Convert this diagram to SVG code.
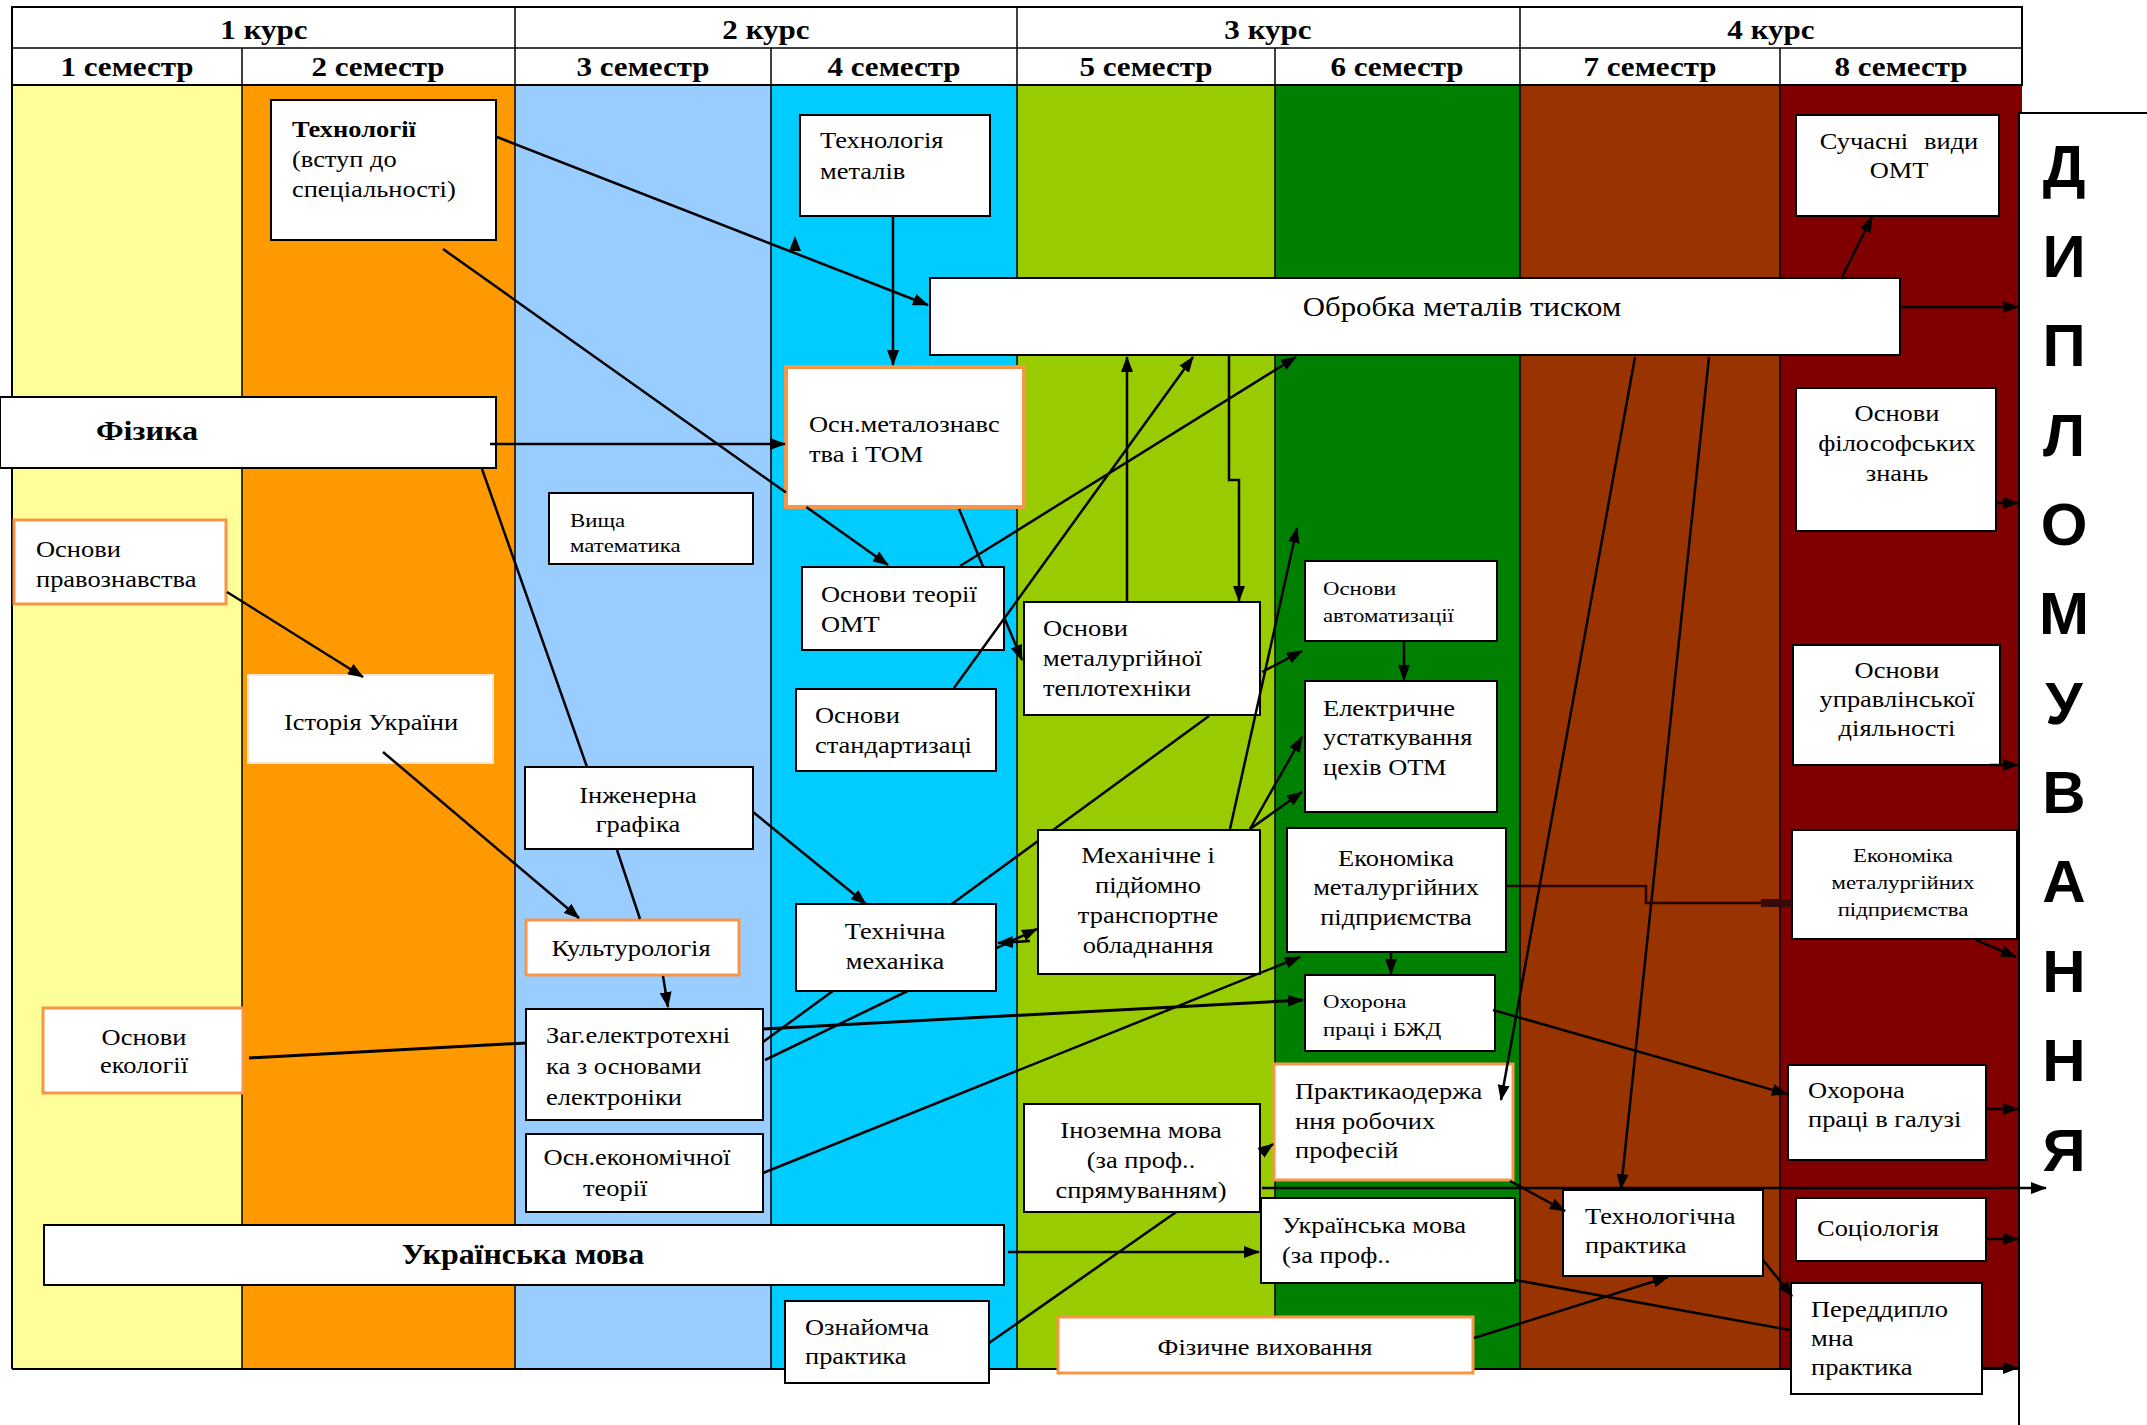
<svg xmlns="http://www.w3.org/2000/svg" width="2147" height="1425" viewBox="0 0 2147 1425">
<defs>
<marker id="ar" markerUnits="userSpaceOnUse" markerWidth="16" markerHeight="12" refX="15" refY="6" orient="auto"><path d="M0,0 L16,6 L0,12 z" fill="#000"/></marker>
<style>
text{font-family:"Liberation Serif","Times New Roman",serif;font-size:23px;fill:#000}
.s{font-size:19px}
.b{font-weight:bold}
.c{text-anchor:middle}
.hd{font-size:27px;font-weight:bold;text-anchor:middle}
.n rect{fill:#fff;stroke:#000;stroke-width:2}
.n.o rect{stroke:#F79646;stroke-width:3}
.cn line,.cn polyline{stroke:#000;stroke-width:2.5;fill:none}
.a{marker-end:url(#ar)}
.dip{font-family:"Liberation Sans",Arial,sans-serif;font-size:60px;font-weight:bold;text-anchor:middle}
.tl{stroke:#000;stroke-width:1.5}
</style>
</defs>
<rect width="2147" height="1425" fill="#fff"/>
<g id="columns">
<rect x="12" y="85" width="230" height="1284" fill="#FFFF99"/>
<rect x="242" y="85" width="273" height="1284" fill="#FF9900"/>
<rect x="515" y="85" width="256" height="1284" fill="#99CCFF"/>
<rect x="771" y="85" width="246" height="1284" fill="#00CCFF"/>
<rect x="1017" y="85" width="258" height="1284" fill="#99CC00"/>
<rect x="1275" y="85" width="245" height="1284" fill="#008000"/>
<rect x="1520" y="85" width="260" height="1284" fill="#993300"/>
<rect x="1780" y="85" width="242" height="1284" fill="#800000"/>
</g>
<g id="table">
<rect x="12" y="7" width="2010" height="78" fill="#fff" stroke="#000" stroke-width="2"/>
<line class="tl" x1="12" y1="48" x2="2022" y2="48"/>
<line class="tl" x1="515" y1="7" x2="515" y2="1369"/>
<line class="tl" x1="1017" y1="7" x2="1017" y2="1369"/>
<line class="tl" x1="1520" y1="7" x2="1520" y2="1369"/>
<line class="tl" x1="242" y1="48" x2="242" y2="1369"/>
<line class="tl" x1="771" y1="48" x2="771" y2="1369"/>
<line class="tl" x1="1275" y1="48" x2="1275" y2="1369"/>
<line class="tl" x1="1780" y1="48" x2="1780" y2="1369"/>
<line x1="12" y1="85" x2="12" y2="1369" stroke="#000" stroke-width="2"/>
<line x1="12" y1="1369" x2="2020" y2="1369" stroke="#000" stroke-width="2"/>
<text class="hd" transform="translate(264,39) scale(1.15 1)">1 курс</text>
<text class="hd" transform="translate(766,39) scale(1.15 1)">2 курс</text>
<text class="hd" transform="translate(1268,39) scale(1.15 1)">3 курс</text>
<text class="hd" transform="translate(1771,39) scale(1.15 1)">4 курс</text>
<text class="hd" transform="translate(127,76) scale(1.15 1)">1 семестр</text>
<text class="hd" transform="translate(378,76) scale(1.15 1)">2 семестр</text>
<text class="hd" transform="translate(643,76) scale(1.15 1)">3 семестр</text>
<text class="hd" transform="translate(894,76) scale(1.15 1)">4 семестр</text>
<text class="hd" transform="translate(1146,76) scale(1.15 1)">5 семестр</text>
<text class="hd" transform="translate(1397,76) scale(1.15 1)">6 семестр</text>
<text class="hd" transform="translate(1650,76) scale(1.15 1)">7 семестр</text>
<text class="hd" transform="translate(1901,76) scale(1.15 1)">8 семестр</text>
</g>
<g id="n-dyplom">
<rect x="2019" y="113" width="160" height="1340" fill="#fff" stroke="#000" stroke-width="2"/>
<text class="dip" x="2064" y="187">Д</text>
<text class="dip" x="2064" y="277">И</text>
<text class="dip" x="2064" y="366">П</text>
<text class="dip" x="2064" y="456">Л</text>
<text class="dip" x="2064" y="545">О</text>
<text class="dip" x="2064" y="634">М</text>
<text class="dip" x="2064" y="724">У</text>
<text class="dip" x="2064" y="813">В</text>
<text class="dip" x="2064" y="902">А</text>
<text class="dip" x="2064" y="992">Н</text>
<text class="dip" x="2064" y="1081">Н</text>
<text class="dip" x="2064" y="1171">Я</text>
</g>
<g id="n-tech" class="n"><rect x="271" y="100" width="225" height="140"/><text transform="translate(292,137) scale(1.15 1)"><tspan x="0" y="0" class="b">Технології</tspan><tspan x="0" y="30">(вступ до</tspan><tspan x="0" y="60">спеціальності)</tspan></text></g>
<g id="n-fizyka" class="n"><rect x="0" y="397" width="496" height="71"/><text class="b c" style="font-size:28px" transform="translate(147,440) scale(1.15 1)">Фізика</text></g>
<g id="n-pravo" class="n o"><rect x="14" y="520" width="212" height="84"/><text transform="translate(36,557) scale(1.15 1)"><tspan x="0" y="0">Основи</tspan><tspan x="0" y="30">правознавства</tspan></text></g>
<g id="n-istoriya" class="n"><rect x="248" y="675" width="245" height="88" style="stroke:#fde4cf"/><text class="c" transform="translate(371,730) scale(1.15 1)">Історія України</text></g>
<g id="n-vyshcha" class="n"><rect x="549" y="493" width="204" height="71"/><text class="s" transform="translate(570,527) scale(1.2 1)"><tspan x="0" y="0">Вища</tspan><tspan x="0" y="25">математика</tspan></text></g>
<g id="n-inzh" class="n"><rect x="525" y="767" width="228" height="82"/><text class="c" transform="translate(638,803) scale(1.15 1)"><tspan x="0" y="0">Інженерна</tspan><tspan x="0" y="29">графіка</tspan></text></g>
<g id="n-kultur" class="n o"><rect x="526" y="920" width="213" height="55"/><text class="c" transform="translate(631,956) scale(1.15 1)">Культурологія</text></g>
<g id="n-zagel" class="n"><rect x="526" y="1009" width="237" height="111"/><text transform="translate(546,1043) scale(1.15 1)"><tspan x="0" y="0">Заг.електротехні</tspan><tspan x="0" y="31">ка з основами</tspan><tspan x="0" y="62">електроніки</tspan></text></g>
<g id="n-oet" class="n"><rect x="526" y="1134" width="237" height="78"/><text class="c" transform="translate(637,1165) scale(1.15 1)"><tspan x="0" y="0">Осн.економічної</tspan><tspan x="-19" y="31">теорії</tspan></text></g>
<g id="n-ukrmova" class="n"><rect x="44" y="1225" width="960" height="60"/><text class="b c" style="font-size:29px" transform="translate(523,1264) scale(1.1 1)">Українська мова</text></g>
<g id="n-ekol" class="n o"><rect x="43" y="1008" width="200" height="85"/><text class="c" transform="translate(144,1045) scale(1.15 1)"><tspan x="0" y="0">Основи</tspan><tspan x="0" y="28">екології</tspan></text></g>
<g id="n-techmet" class="n"><rect x="800" y="115" width="190" height="101"/><text transform="translate(820,148) scale(1.15 1)"><tspan x="0" y="0">Технологія</tspan><tspan x="0" y="31">металів</tspan></text></g>
<g id="n-obrobka" class="n"><rect x="930" y="278" width="970" height="77"/><text class="c" style="font-size:28px" transform="translate(1462,316) scale(1.1 1)">Обробка металів тиском</text></g>
<g id="n-osnmet" class="n o"><rect x="786" y="367" width="238" height="140" style="stroke-width:4"/><text transform="translate(809,432) scale(1.15 1)"><tspan x="0" y="0">Осн.металознавс</tspan><tspan x="0" y="30">тва і ТОМ</tspan></text></g>
<g id="n-oteorii" class="n"><rect x="802" y="567" width="202" height="83"/><text transform="translate(821,602) scale(1.15 1)"><tspan x="0" y="0">Основи теорії</tspan><tspan x="0" y="30">ОМТ</tspan></text></g>
<g id="n-ostand" class="n"><rect x="796" y="689" width="200" height="82"/><text transform="translate(815,723) scale(1.15 1)"><tspan x="0" y="0">Основи</tspan><tspan x="0" y="30">стандартизаці</tspan></text></g>
<g id="n-techmech" class="n"><rect x="796" y="904" width="200" height="87"/><text class="c" transform="translate(895,939) scale(1.15 1)"><tspan x="0" y="0">Технічна</tspan><tspan x="0" y="30">механіка</tspan></text></g>
<g id="n-oznay" class="n"><rect x="785" y="1301" width="204" height="82"/><text transform="translate(805,1335) scale(1.15 1)"><tspan x="0" y="0">Ознайомча</tspan><tspan x="0" y="29">практика</tspan></text></g>
<g id="n-teplo" class="n"><rect x="1024" y="602" width="236" height="113"/><text transform="translate(1043,636) scale(1.15 1)"><tspan x="0" y="0">Основи</tspan><tspan x="0" y="30">металургійної</tspan><tspan x="0" y="60">теплотехніки</tspan></text></g>
<g id="n-mechan" class="n"><rect x="1038" y="830" width="222" height="144"/><text class="c" transform="translate(1148,863) scale(1.15 1)"><tspan x="0" y="0">Механічне і</tspan><tspan x="0" y="30">підйомно</tspan><tspan x="0" y="60">транспортне</tspan><tspan x="0" y="90">обладнання</tspan></text></g>
<g id="n-inozem" class="n"><rect x="1024" y="1104" width="236" height="108"/><text class="c" transform="translate(1141,1138) scale(1.15 1)"><tspan x="0" y="0">Іноземна мова</tspan><tspan x="0" y="30">(за проф..</tspan><tspan x="0" y="60">спрямуванням)</tspan></text></g>
<g id="n-avtom" class="n"><rect x="1305" y="561" width="192" height="80"/><text class="s" transform="translate(1323,595) scale(1.2 1)"><tspan x="0" y="0">Основи</tspan><tspan x="0" y="27">автоматизації</tspan></text></g>
<g id="n-elektr" class="n"><rect x="1305" y="681" width="192" height="131"/><text transform="translate(1323,716) scale(1.15 1)"><tspan x="0" y="0">Електричне</tspan><tspan x="0" y="29">устаткування</tspan><tspan x="0" y="59">цехів ОТМ</tspan></text></g>
<g id="n-ekon6" class="n"><rect x="1287" y="828" width="219" height="124"/><text class="c" transform="translate(1396,866) scale(1.15 1)"><tspan x="0" y="0">Економіка</tspan><tspan x="0" y="29">металургійних</tspan><tspan x="0" y="59">підприємства</tspan></text></g>
<g id="n-ohor6" class="n"><rect x="1305" y="975" width="190" height="76"/><text class="s" transform="translate(1323,1008) scale(1.2 1)"><tspan x="0" y="0">Охорона</tspan><tspan x="0" y="28">праці і БЖД</tspan></text></g>
<g id="n-prakt" class="n o"><rect x="1274" y="1064" width="239" height="116"/><text transform="translate(1295,1099) scale(1.15 1)"><tspan x="0" y="0">Практикаодержа</tspan><tspan x="0" y="30">ння робочих</tspan><tspan x="0" y="59">професій</tspan></text></g>
<g id="n-ukrprof" class="n"><rect x="1261" y="1198" width="254" height="85"/><text transform="translate(1282,1233) scale(1.15 1)"><tspan x="0" y="0">Українська мова</tspan><tspan x="0" y="30">(за проф..</tspan></text></g>
<g id="n-fizvyh" class="n o"><rect x="1058" y="1317" width="415" height="56"/><text class="c" transform="translate(1265,1355) scale(1.15 1)">Фізичне виховання</text></g>
<g id="n-techprakt" class="n"><rect x="1563" y="1190" width="200" height="86"/><text transform="translate(1585,1224) scale(1.15 1)"><tspan x="0" y="0">Технологічна</tspan><tspan x="0" y="29">практика</tspan></text></g>
<g id="n-suchasni" class="n"><rect x="1796" y="115" width="203" height="101"/><text class="c" transform="translate(1899,149) scale(1.15 1)"><tspan x="0" y="0" word-spacing="8">Сучасні види</tspan><tspan x="0" y="29">ОМТ</tspan></text></g>
<g id="n-filos" class="n"><rect x="1796" y="388" width="200" height="143"/><text class="c" transform="translate(1897,421) scale(1.15 1)"><tspan x="0" y="0">Основи</tspan><tspan x="0" y="30">філософських</tspan><tspan x="0" y="60">знань</tspan></text></g>
<g id="n-uprav" class="n"><rect x="1793" y="645" width="207" height="120"/><text class="c" transform="translate(1897,678) scale(1.15 1)"><tspan x="0" y="0">Основи</tspan><tspan x="0" y="29">управлінської</tspan><tspan x="0" y="58">діяльності</tspan></text></g>
<g id="n-ekon8" class="n"><rect x="1792" y="830" width="225" height="109"/><text class="s c" transform="translate(1903,862) scale(1.2 1)"><tspan x="0" y="0">Економіка</tspan><tspan x="0" y="27">металургійних</tspan><tspan x="0" y="54">підприємства</tspan></text></g>
<g id="n-ohor8" class="n"><rect x="1788" y="1065" width="198" height="95"/><text transform="translate(1808,1098) scale(1.15 1)"><tspan x="0" y="0">Охорона</tspan><tspan x="0" y="29">праці в галузі</tspan></text></g>
<g id="n-sociol" class="n"><rect x="1796" y="1198" width="190" height="63"/><text transform="translate(1817,1236) scale(1.15 1)">Соціологія</text></g>
<g id="n-peredd" class="n"><rect x="1791" y="1283" width="191" height="111"/><text transform="translate(1811,1317) scale(1.15 1)"><tspan x="0" y="0">Переддипло</tspan><tspan x="0" y="29">мна</tspan><tspan x="0" y="58">практика</tspan></text></g>
<g id="connectors" class="cn">
<line class="a" x1="497" y1="137" x2="928" y2="305"/>
<polygon points="795,236 789,251 801,251" fill="#000"/>
<line x1="443" y1="249" x2="786" y2="492.6"/>
<line class="a" x1="806.3" y1="507" x2="888" y2="565"/>
<line class="a" x1="893" y1="216" x2="893" y2="365"/>
<line class="a" x1="490" y1="444" x2="785" y2="444"/>
<line x1="482" y1="469" x2="587" y2="767"/>
<line class="a" x1="227" y1="592" x2="363" y2="677"/>
<line class="a" x1="383" y1="752" x2="579" y2="918"/>
<line x1="617" y1="850" x2="640" y2="919"/>
<line class="a" x1="663" y1="976" x2="668" y2="1007"/>
<line x1="249" y1="1058" x2="526" y2="1043" style="stroke-width:3"/>
<line class="a" x1="753" y1="812" x2="866" y2="904"/>
<line class="a" x1="763" y1="1029" x2="1303" y2="1000" style="stroke-width:3"/>
<line x1="763" y1="1042" x2="832.8" y2="991"/>
<line x1="951.8" y1="904" x2="1038" y2="841"/>
<line x1="1053" y1="830" x2="1209" y2="716"/>
<line x1="765" y1="1060" x2="907.7" y2="991"/>
<line class="a" x1="996" y1="948.3" x2="1037" y2="929"/>
<line class="a" x1="1030" y1="941" x2="998" y2="943"/>
<line class="a" x1="763" y1="1173" x2="1300" y2="957"/>
<line x1="989" y1="1343" x2="1176.2" y2="1212"/>
<line class="a" x1="1260" y1="1153.4" x2="1273" y2="1144"/>
<line class="a" x1="1008" y1="1252" x2="1259" y2="1252"/>
<line class="a" x1="1474" y1="1338" x2="1668" y2="1277"/>
<line x1="1515" y1="1280" x2="1790" y2="1330"/>
<line class="a" x1="1262" y1="1188" x2="2046" y2="1188"/>
<line class="a" x1="1510" y1="1181" x2="1565" y2="1211"/>
<line class="a" x1="1763" y1="1260" x2="1792" y2="1296"/>
<line class="a" x1="1493" y1="1010" x2="1787" y2="1094"/>
<line class="a" x1="1635" y1="357" x2="1501" y2="1100"/>
<line class="a" x1="1709" y1="357" x2="1621" y2="1189"/>
<line class="a" x1="1841" y1="279" x2="1872" y2="217"/>
<line class="a" x1="1901" y1="307" x2="2018" y2="307"/>
<line class="a" x1="1997" y1="503" x2="2018" y2="503"/>
<line class="a" x1="1990" y1="765" x2="2018" y2="765"/>
<line class="a" x1="1976" y1="940" x2="2016" y2="957"/>
<line class="a" x1="1986" y1="1109" x2="2018" y2="1109"/>
<line class="a" x1="1986" y1="1239" x2="2018" y2="1239"/>
<line class="a" x1="1982" y1="1368" x2="2018" y2="1368"/>
<polyline points="1506,886 1646,886 1646,903 1792,903" style="stroke:#2a0000"/>
<line x1="1761" y1="903" x2="1792" y2="903" style="stroke:#3a0a0a;stroke-width:8"/>
<line class="a" x1="1404" y1="641" x2="1404" y2="680"/>
<line class="a" x1="1391" y1="952" x2="1391" y2="974"/>
<line class="a" x1="1127" y1="602" x2="1127" y2="357"/>
<polyline class="a" points="1229,356 1229,480 1239,480 1239,601"/>
<line class="a" x1="954" y1="688" x2="1193" y2="357"/>
<line class="a" x1="1230" y1="829" x2="1297" y2="528"/>
<line class="a" x1="1250" y1="829" x2="1302" y2="737"/>
<line class="a" x1="1250" y1="829" x2="1302" y2="792"/>
<line class="a" x1="1262" y1="672" x2="1302" y2="651"/>
<line x1="959" y1="509" x2="983.2" y2="567"/>
<line class="a" x1="1004" y1="616.9" x2="1022" y2="660"/>
<line class="a" x1="960" y1="566" x2="1296" y2="357"/>
</g>
</svg>
